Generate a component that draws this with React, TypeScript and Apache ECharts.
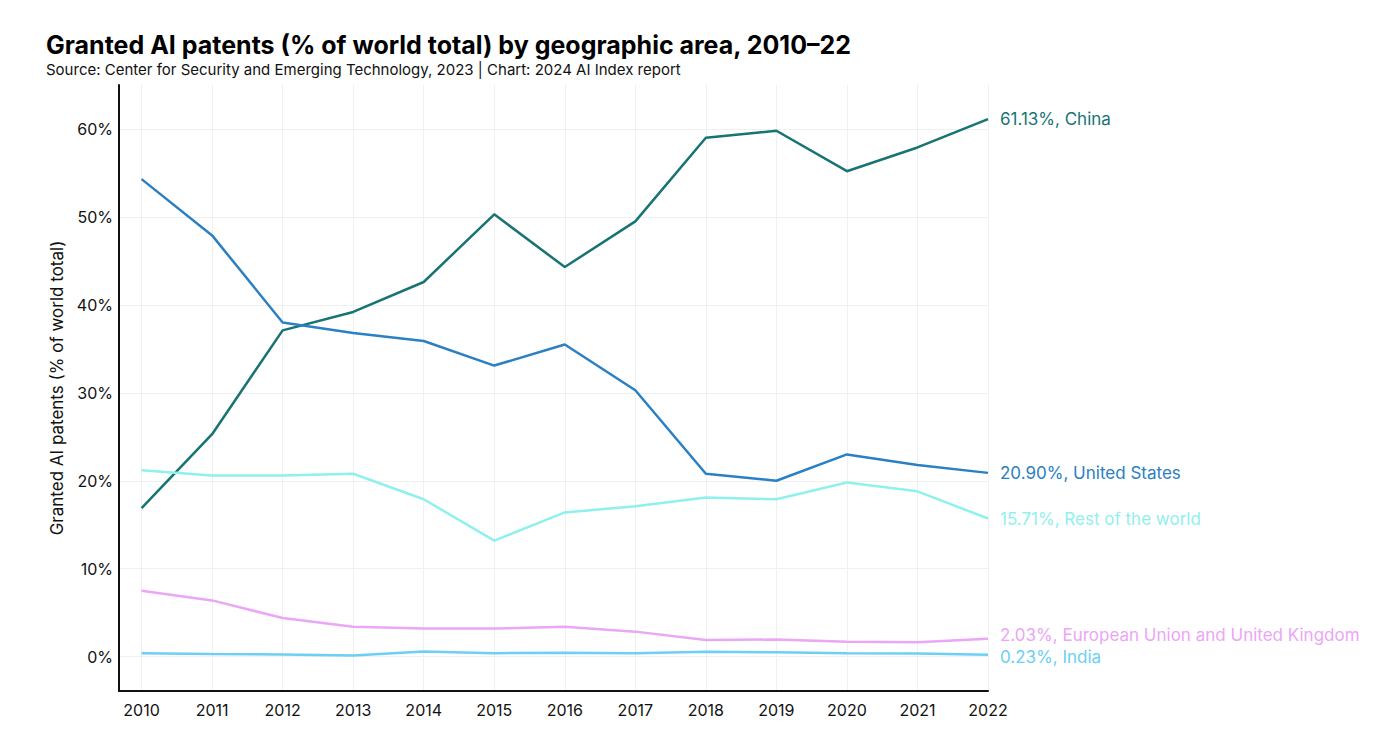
import React, { useEffect, useRef } from "react";
import * as echarts from "echarts";

const years = [2010, 2011, 2012, 2013, 2014, 2015, 2016, 2017, 2018, 2019, 2020, 2021, 2022];
const yTicks = [0, 10, 20, 30, 40, 50, 60];

const china = [16.9, 25.3, 37.1, 39.2, 42.6, 50.3, 44.3, 49.5, 59.0, 59.8, 55.2, 57.9, 61.13];
const unitedStates = [54.3, 47.9, 38.0, 36.8, 35.9, 33.1, 35.5, 30.3, 20.8, 20.0, 23.0, 21.8, 20.9];
const restOfWorld = [21.2, 20.6, 20.6, 20.8, 17.9, 13.2, 16.4, 17.1, 18.1, 17.9, 19.8, 18.8, 15.71];
const euUk = [7.5, 6.4, 4.4, 3.4, 3.2, 3.2, 3.4, 2.85, 1.9, 1.95, 1.7, 1.65, 2.03];
const india = [0.4, 0.3, 0.25, 0.15, 0.6, 0.4, 0.45, 0.4, 0.55, 0.5, 0.4, 0.35, 0.23];

const seriesDefs = [
  { name: "China", values: china, color: "#177473", shift: 0 },
  { name: "United States", values: unitedStates, color: "#2a80c3", shift: 0 },
  { name: "Rest of the world", values: restOfWorld, color: "#90f0ed", shift: 0 },
  { name: "European Union and United Kingdom", values: euUk, color: "#eba6f6", shift: -4 },
  { name: "India", values: india, color: "#6ccff3", shift: 2 },
];

const FONT = "Inter, 'Noto Sans', sans-serif";

export default function App() {
  const ref = useRef<HTMLDivElement>(null);
  useEffect(() => {
    if (!ref.current) return;
    const chart = echarts.init(ref.current, undefined, { renderer: "svg" });
    chart.setOption({
      animation: false,
      backgroundColor: "#ffffff",
      textStyle: { fontFamily: FONT },
      title: {
        text: "Granted AI patents (% of world total) by geographic area, 2010–22",
        subtext: "Source: Center for Security and Emerging Technology, 2023 | Chart: 2024 AI Index report",
        left: 33,
        top: 19,
        itemGap: 5,
        textStyle: { fontFamily: FONT, fontSize: 25, fontWeight: "bold", color: "#000" },
        subtextStyle: { fontFamily: FONT, fontSize: 15, color: "#111" },
      },
      grid: { left: 111, right: 403, top: 77, bottom: 53, containLabel: false },
      xAxis: {
        type: "value",
        min: 2009.68,
        max: 2022,
        axisLine: { show: true, onZero: false, lineStyle: { color: "#111", width: 2 } },
        axisTick: { show: false, customValues: years },
        axisLabel: {
          customValues: years,
          color: "#111",
          fontSize: 16,
          margin: 11,
          fontFamily: FONT,
          formatter: (v: number) => String(v),
        },
        splitLine: { show: true, lineStyle: { color: "#f0f0f0", width: 1 } },
      },
      yAxis: {
        type: "value",
        min: -3.9,
        max: 65,
        name: "Granted AI patents (% of world total)",
        nameLocation: "middle",
        nameGap: 48,
        nameTextStyle: { fontFamily: FONT, fontSize: 17, color: "#111" },
        axisLine: { show: true, lineStyle: { color: "#111", width: 2 } },
        axisTick: { show: false, customValues: yTicks },
        axisLabel: {
          customValues: yTicks,
          color: "#111",
          fontSize: 16,
          margin: 6,
          fontFamily: FONT,
          formatter: (v: number) => `${v}%`,
        },
        splitLine: { show: true, lineStyle: { color: "#f0f0f0", width: 1 } },
      },
      series: seriesDefs.map((s) => ({
        name: s.name,
        type: "line",
        data: s.values.map((v, i) => [years[i], v]),
        showSymbol: false,
        symbol: "none",
        lineStyle: { color: s.color, width: 2.5 },
        itemStyle: { color: s.color },
        endLabel: {
          show: true,
          distance: 12,
          offset: [0, s.shift],
          color: s.color,
          fontSize: 17,
          fontFamily: FONT,
          formatter: (p: any) => `${p.value[1].toFixed(2)}%, ${s.name}`,
        },
        emphasis: { disabled: true },
      })),
    });
    return () => chart.dispose();
  }, []);
  return <div ref={ref} style={{ width: 1383, height: 736 }} />;
}
